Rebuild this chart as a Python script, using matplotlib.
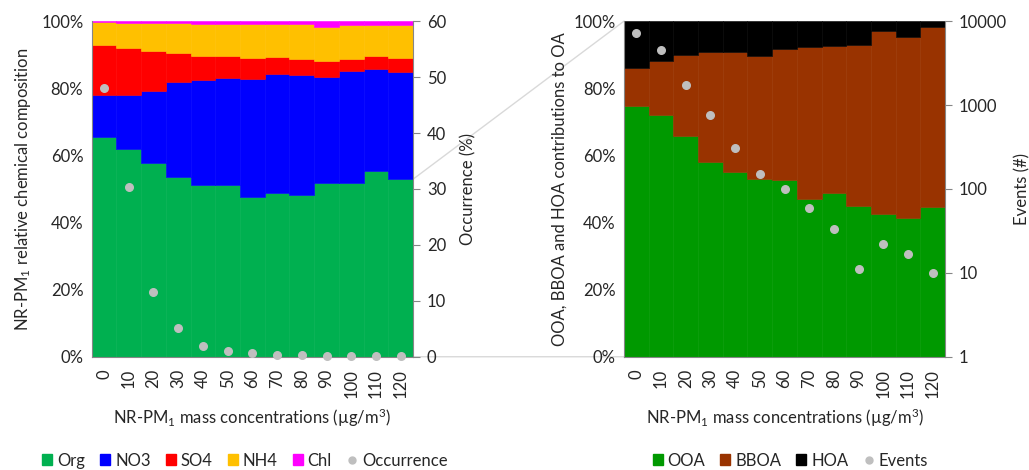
import numpy as np
import matplotlib
matplotlib.use("Agg")
import matplotlib.pyplot as plt
from matplotlib.patches import Patch, ConnectionPatch
from matplotlib.lines import Line2D
from matplotlib.ticker import FuncFormatter, FixedLocator

plt.rcParams['font.family'] = ['Lato', 'DejaVu Sans']
plt.rcParams['mathtext.fontset'] = 'custom'
plt.rcParams['mathtext.rm'] = 'Lato'
plt.rcParams['mathtext.default'] = 'regular'

# bins of NR-PM1 mass concentration
bins = ['0', '10', '20', '30', '40', '50', '60', '70', '80', '90', '100', '110', '120']

# cumulative tops (%)
org_top = [65.5, 61.9, 57.6, 53.5, 51.2, 51.2, 47.6, 48.7, 48.2, 51.7, 51.8, 55.3, 52.9]
no3_top = [78.0, 78.0, 79.3, 81.9, 82.5, 83.1, 82.7, 84.3, 84.0, 83.5, 85.0, 85.6, 84.8]
so4_top = [93.0, 92.1, 91.1, 90.4, 89.7, 89.6, 88.9, 89.2, 88.7, 88.1, 88.7, 89.5, 89.0]
nh4_top = [99.8, 99.5, 99.4, 99.3, 99.2, 99.2, 99.1, 99.1, 99.1, 98.2, 98.8, 98.9, 98.9]
occurrence = [48.0, 30.3, 11.5, 5.1, 2.0, 0.95, 0.6, 0.24, 0.24, 0.1, 0.1, 0.08, 0.05]

# cumulative tops (%)
ooa_top = [74.6, 72.0, 65.9, 57.9, 54.9, 53.1, 52.6, 46.9, 48.8, 44.9, 42.5, 41.2, 44.7]
bboa_top = [86.0, 88.1, 90.0, 90.7, 90.7, 89.6, 91.7, 92.4, 92.7, 92.9, 97.0, 95.2, 98.2]
events = [7130, 4470, 1710, 751, 304, 149, 99, 59, 33, 11, 22, 17, 10]

org = np.array(org_top)
no3 = np.array(no3_top) - org
so4 = np.array(so4_top) - np.array(no3_top)
nh4 = np.array(nh4_top) - np.array(so4_top)
chl = 100 - np.array(nh4_top)
ooa = np.array(ooa_top)
bboa = np.array(bboa_top) - ooa
hoa = 100 - np.array(bboa_top)

x = np.arange(len(bins))
fs = 12
grey = '#BFBFBF'
spine_c = '#868686'
txt_c = '#262626'
plt.rcParams['text.color'] = txt_c
plt.rcParams['axes.labelcolor'] = txt_c
plt.rcParams['xtick.color'] = txt_c
plt.rcParams['ytick.color'] = txt_c

fig = plt.figure(figsize=(10.29, 4.70), dpi=100)
ax1 = fig.add_axes([0.0891, 0.241, 0.3123, 0.714])
ax3 = fig.add_axes([0.6064, 0.241, 0.3120, 0.714])


def stack(ax, parts, colors):
    bottom = np.zeros(len(x))
    for p, c in zip(parts, colors):
        ax.bar(x, p, bottom=bottom, width=1.0, color=c, edgecolor=c, linewidth=0.4)
        bottom = bottom + p


left_cols = ['#00B050', '#0000FF', '#FF0000', '#FFC000', '#FF00FF']
right_cols = ['#009900', '#993300', '#000000']
stack(ax1, [org, no3, so4, nh4, chl], left_cols)
stack(ax3, [ooa, bboa, hoa], right_cols)

pct = FuncFormatter(lambda v, p: '%d%%' % v)
for ax in (ax1, ax3):
    ax.set_xlim(-0.5, len(bins) - 0.5)
    ax.set_ylim(0, 100)
    ax.set_yticks(np.arange(0, 101, 20))
    ax.yaxis.set_major_formatter(pct)
    ax.set_xticks(x)
    ax.set_xticklabels(bins, rotation=90, fontsize=fs)
    ax.tick_params(axis='y', labelsize=fs, length=0, pad=6)
    ax.tick_params(axis='x', length=0, pad=9)
    ax.spines['top'].set_visible(False)
    ax.spines['right'].set_visible(False)
    ax.spines['left'].set_color(spine_c)
    ax.spines['bottom'].set_color(spine_c)
    ax.set_xlabel('NR-PM$_1$ mass concentrations (µg/m$^3$)', fontsize=fs, labelpad=6)

ax1.set_ylabel('NR-PM$_1$ relative chemical composition', fontsize=fs, labelpad=6)
ax3.set_ylabel('OOA, BBOA and HOA contributions to OA', fontsize=fs, labelpad=4)

ax2 = ax1.twinx()
ax2.scatter(x, occurrence, s=30, color=grey, zorder=5, clip_on=False)
ax2.set_ylim(0, 60)
ax2.set_yticks(np.arange(0, 61, 10))
ax2.set_ylabel('Occurrence (%)', fontsize=fs, labelpad=10)

ax4 = ax3.twinx()
ax4.scatter(x, events, s=30, color=grey, zorder=5, clip_on=False)
ax4.set_yscale('log')
ax4.set_ylim(1, 10000)
ax4.yaxis.set_major_locator(FixedLocator([1, 10, 100, 1000, 10000]))
ax4.yaxis.set_major_formatter(FuncFormatter(lambda v, p: '%d' % v))
ax4.yaxis.set_minor_locator(FixedLocator([]))
ax4.set_ylabel('Events (#)', fontsize=fs, labelpad=5)

for ax in (ax2, ax4):
    ax.tick_params(axis='y', labelsize=fs, direction='out', length=5, color=spine_c, pad=5)
    ax.spines['top'].set_visible(False)
    ax.spines['left'].set_visible(False)
    ax.spines['bottom'].set_visible(False)
    ax.spines['right'].set_color(spine_c)

# zoom connector lines from Org bar to OA panel
line_c = '#D9D9D9'
for ya, yb in [(org_top[-1], 100), (0, 0)]:
    con = ConnectionPatch(xyA=(len(bins) - 0.5, ya), coordsA=ax1.transData,
                          xyB=(-0.5, yb), coordsB=ax3.transData,
                          color=line_c, linewidth=1.0, zorder=0)
    fig.add_artist(con)

def legend_handles(names, cols, dot_name):
    hs = [Patch(facecolor=c, edgecolor=c, label=n) for n, c in zip(names, cols)]
    hs.append(Line2D([], [], marker='o', linestyle='none', color=grey,
                     markersize=5, label=dot_name))
    return hs

fig.legend(handles=legend_handles(['Org', 'NO3', 'SO4', 'NH4', 'Chl'], left_cols, 'Occurrence'),
           loc='center', bbox_to_anchor=(0.238, 0.02), ncol=6, frameon=False,
           fontsize=fs, handlelength=0.6, handleheight=0.6, handletextpad=0.3,
           columnspacing=0.9)
fig.legend(handles=legend_handles(['OOA', 'BBOA', 'HOA'], right_cols, 'Events'),
           loc='center', bbox_to_anchor=(0.768, 0.02), ncol=4, frameon=False,
           fontsize=fs, handlelength=0.6, handleheight=0.6, handletextpad=0.3,
           columnspacing=0.9)

fig.savefig('out.png', dpi=100)
